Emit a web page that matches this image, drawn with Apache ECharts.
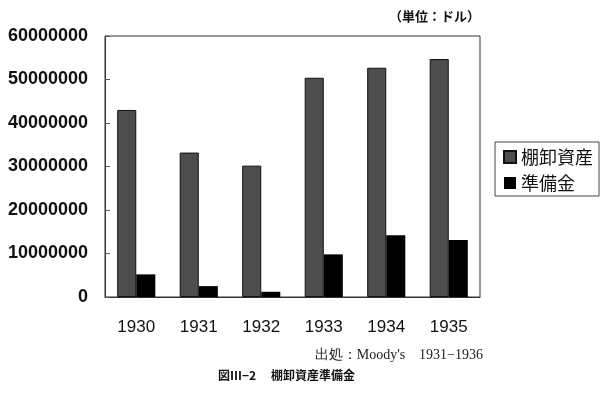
<!DOCTYPE html>
<html>
<head>
<meta charset="utf-8">
<script src="https://cdn.jsdelivr.net/npm/echarts@6/dist/echarts.min.js"></script>
<style>
  html, body { margin: 0; padding: 0; background: #fff; }
  #chart { width: 607px; height: 395px; }
</style>
</head>
<body>
<div id="chart"></div>
<script>
// data
const years = ['1930', '1931', '1932', '1933', '1934', '1935']
const inventory = [43000000, 33200000, 30200000, 50400000, 52700000, 54700000] // 棚卸資産
const reserve = [5200000, 2500000, 1200000, 9800000, 14200000, 13100000] // 準備金
const yTicks = [0, 10000000, 20000000, 30000000, 40000000, 50000000, 60000000]

const cjk = '"Noto Sans CJK JP", sans-serif'
const chart = echarts.init(document.getElementById('chart'))

chart.setOption({
  animation: false,
  grid: {
    left: 105,
    right: 127,
    top: 36,
    bottom: 98,
    show: true,
    borderColor: '#333',
    borderWidth: 1
  },
  legend: {
    orient: 'vertical',
    right: 8,
    top: 142,
    icon: 'rect',
    itemWidth: 12,
    itemHeight: 12,
    itemGap: 8,
    padding: [6, 6, 4, 8],
    borderColor: '#444',
    borderWidth: 1,
    textStyle: { fontFamily: cjk, fontSize: 18, color: '#111' },
    data: ['棚卸資産', '準備金']
  },
  xAxis: {
    type: 'category',
    data: years,
    axisLine: { lineStyle: { color: '#333' } },
    axisTick: { inside: true, length: 5, lineStyle: { color: '#555' } },
    axisLabel: { margin: 22, fontFamily: 'Arial, sans-serif', fontSize: 17, color: '#111' }
  },
  yAxis: {
    type: 'value',
    min: yTicks[0],
    max: yTicks[yTicks.length - 1],
    interval: 10000000,
    splitLine: { show: false },
    axisLine: { show: true, lineStyle: { color: '#333' } },
    axisTick: { show: true, inside: true, length: 5, lineStyle: { color: '#555' } },
    axisLabel: {
      margin: 17,
      fontFamily: 'Arial, sans-serif',
      fontSize: 18,
      fontWeight: 'bold',
      color: '#111',
      formatter: v => String(v)
    }
  },
  series: [
    {
      name: '棚卸資産',
      type: 'bar',
      data: inventory,
      barGap: '0%',
      barCategoryGap: '39%',
      itemStyle: {
        color: '#4d4d4d',
        borderColor: '#111',
        borderWidth: 1
      }
    },
    {
      name: '準備金',
      type: 'bar',
      data: reserve,
      itemStyle: { color: '#000' }
    }
  ],
  graphic: [
    {
      type: 'text', right: 127, top: 10,
      style: { text: '（単位：ドル）', font: 'bold 13px "Noto Sans CJK JP"', fill: '#111' }
    },
    {
      type: 'text', right: 124, top: 348,
      style: { text: '出処：Moody\'s　1931−1936', font: '14px "Liberation Serif", serif', fill: '#222' }
    },
    {
      type: 'text', left: 218, top: 369,
      style: { text: '図Ⅲ−2　 棚卸資産準備金', font: 'bold 12px "Noto Sans CJK JP"', fill: '#111' }
    }
  ]
})
</script>
</body>
</html>
